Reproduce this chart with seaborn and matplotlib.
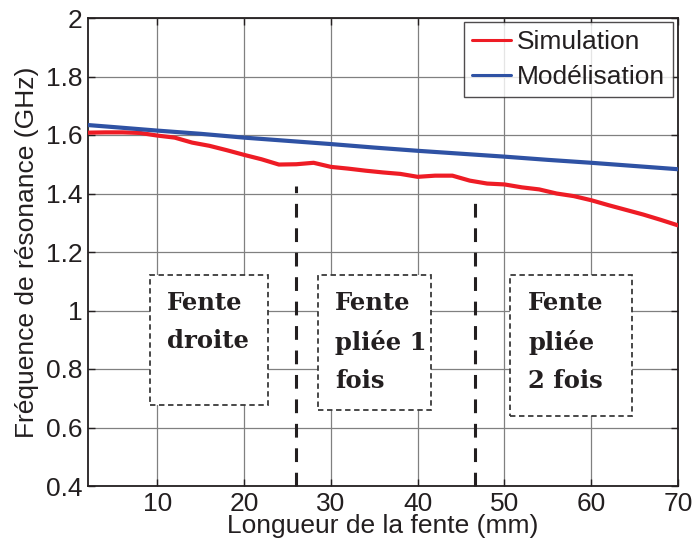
import numpy as np
import pandas as pd
import matplotlib
matplotlib.use("Agg")
import matplotlib.pyplot as plt
from matplotlib.patches import Rectangle
from matplotlib.lines import Line2D
import seaborn as sns

# ---- data ----
sim_x = [2, 4, 6, 8, 10, 12, 14, 16, 18, 20, 22, 24, 26, 28, 30, 32, 34, 36,
         38, 40, 42, 44, 46, 48, 50, 52, 54, 56, 58, 60, 62, 64, 66, 68, 70]
sim_y = [1.608, 1.609, 1.609, 1.607, 1.598, 1.591, 1.574, 1.563, 1.548, 1.532,
         1.517, 1.499, 1.500, 1.505, 1.491, 1.485, 1.478, 1.472, 1.467, 1.457,
         1.461, 1.461, 1.444, 1.434, 1.431, 1.421, 1.414, 1.400, 1.391, 1.377,
         1.360, 1.344, 1.328, 1.310, 1.291]
mod_x = [2, 5, 10, 15, 20, 25, 30, 35, 40, 45, 50, 55, 60, 65, 70]
mod_y = [1.634, 1.627, 1.615, 1.604, 1.591, 1.580, 1.569, 1.557, 1.546, 1.536,
         1.526, 1.515, 1.505, 1.494, 1.483]
series_names = ["Simulation", "Modélisation"]

x_ticks = [10, 20, 30, 40, 50, 60, 70]
y_ticks = [0.4, 0.6, 0.8, 1.0, 1.2, 1.4, 1.6, 1.8, 2.0]
y_tick_labels = ["0.4", "0.6", "0.8", "1", "1.2", "1.4", "1.6", "1.8", "2"]

sep_x = [26, 46.6]
sep_top = [1.425, 1.385]

box_labels = ["Fente\ndroite", "Fente\npliée 1\nfois", "Fente\npliée\n2 fois"]
box_x0 = [9.1, 28.5, 50.6]
box_x1 = [22.7, 41.5, 64.7]
box_y0 = [0.677, 0.66, 0.64]
box_y1 = [1.121, 1.12, 1.12]

df = pd.concat([
    pd.DataFrame({"x": sim_x, "y": sim_y, "s": series_names[0]}),
    pd.DataFrame({"x": mod_x, "y": mod_y, "s": series_names[1]}),
], ignore_index=True)

sns.set_style("ticks")
plt.rcParams["font.family"] = ["Liberation Sans", "DejaVu Sans"]
txt = "#231F20"

fig = plt.figure(figsize=(6.94, 5.48), dpi=100)
ax = fig.add_axes([88 / 694, 1 - 486 / 548, 590 / 694, 468 / 548])

sns.lineplot(data=df, x="x", y="y", hue="s", hue_order=series_names,
             palette={"Simulation": "#EE1C25", "Modélisation": "#2F52A4"},
             linewidth=3.0, ax=ax, zorder=4, legend=False)

ax.set_xlim(2, 70)
ax.set_ylim(0.4, 2.0)
ax.set_xticks(x_ticks)
ax.set_xticklabels([str(t) for t in x_ticks])
ax.set_yticks(y_ticks)
ax.set_yticklabels(y_tick_labels)
ax.grid(True, color="#808080", linewidth=0.9, linestyle="-")
ax.set_axisbelow(True)
ax.tick_params(direction="in", length=5, width=1.0, top=True, right=True,
               labelsize=19, colors="#231F20", pad=4)
for sp in ax.spines.values():
    sp.set_color("#231F20")
    sp.set_linewidth(1.3)

ax.set_xlabel("Longueur de la fente (mm)", fontsize=19, color=txt, labelpad=-1)
ax.set_ylabel("Fréquence de résonance (GHz)", fontsize=19, color=txt, labelpad=5)

# separators
for xv, yt in zip(sep_x, sep_top):
    ax.plot([xv, xv], [0.4, yt], color="#231F20", linewidth=2.2,
            dashes=(4.5, 3.5), zorder=3, clip_on=False)

# annotation boxes
for lab, x0, x1, y0, y1 in zip(box_labels, box_x0, box_x1, box_y0, box_y1):
    ax.add_patch(Rectangle((x0, y0), x1 - x0, y1 - y0, facecolor="white",
                           edgecolor="#3a3a3a", linewidth=1.3,
                           linestyle=(0, (3, 2)), zorder=2))
    ax.text(x0 + (x1 - x0) * 0.15, y1 - 0.055, lab, ha="left", va="top",
            fontsize=17.5, fontweight="bold", family=["DejaVu Serif"],
            color=txt, linespacing=1.72, zorder=3)

# legend
handles = [Line2D([], [], color="#EE1C25", linewidth=2.2),
           Line2D([], [], color="#2F52A4", linewidth=2.2)]
leg = ax.legend(handles, series_names, loc="upper right",
                bbox_to_anchor=(0.991, 0.991), fontsize=19,
                frameon=True, fancybox=False, edgecolor="#231F20",
                handlelength=1.5, handletextpad=0.2, borderpad=0.3,
                labelspacing=0.42, borderaxespad=0.0)
leg.get_frame().set_linewidth(1.0)
for t in leg.get_texts():
    t.set_color(txt)
leg.set_zorder(6)

fig.savefig("out.png", dpi=100)
